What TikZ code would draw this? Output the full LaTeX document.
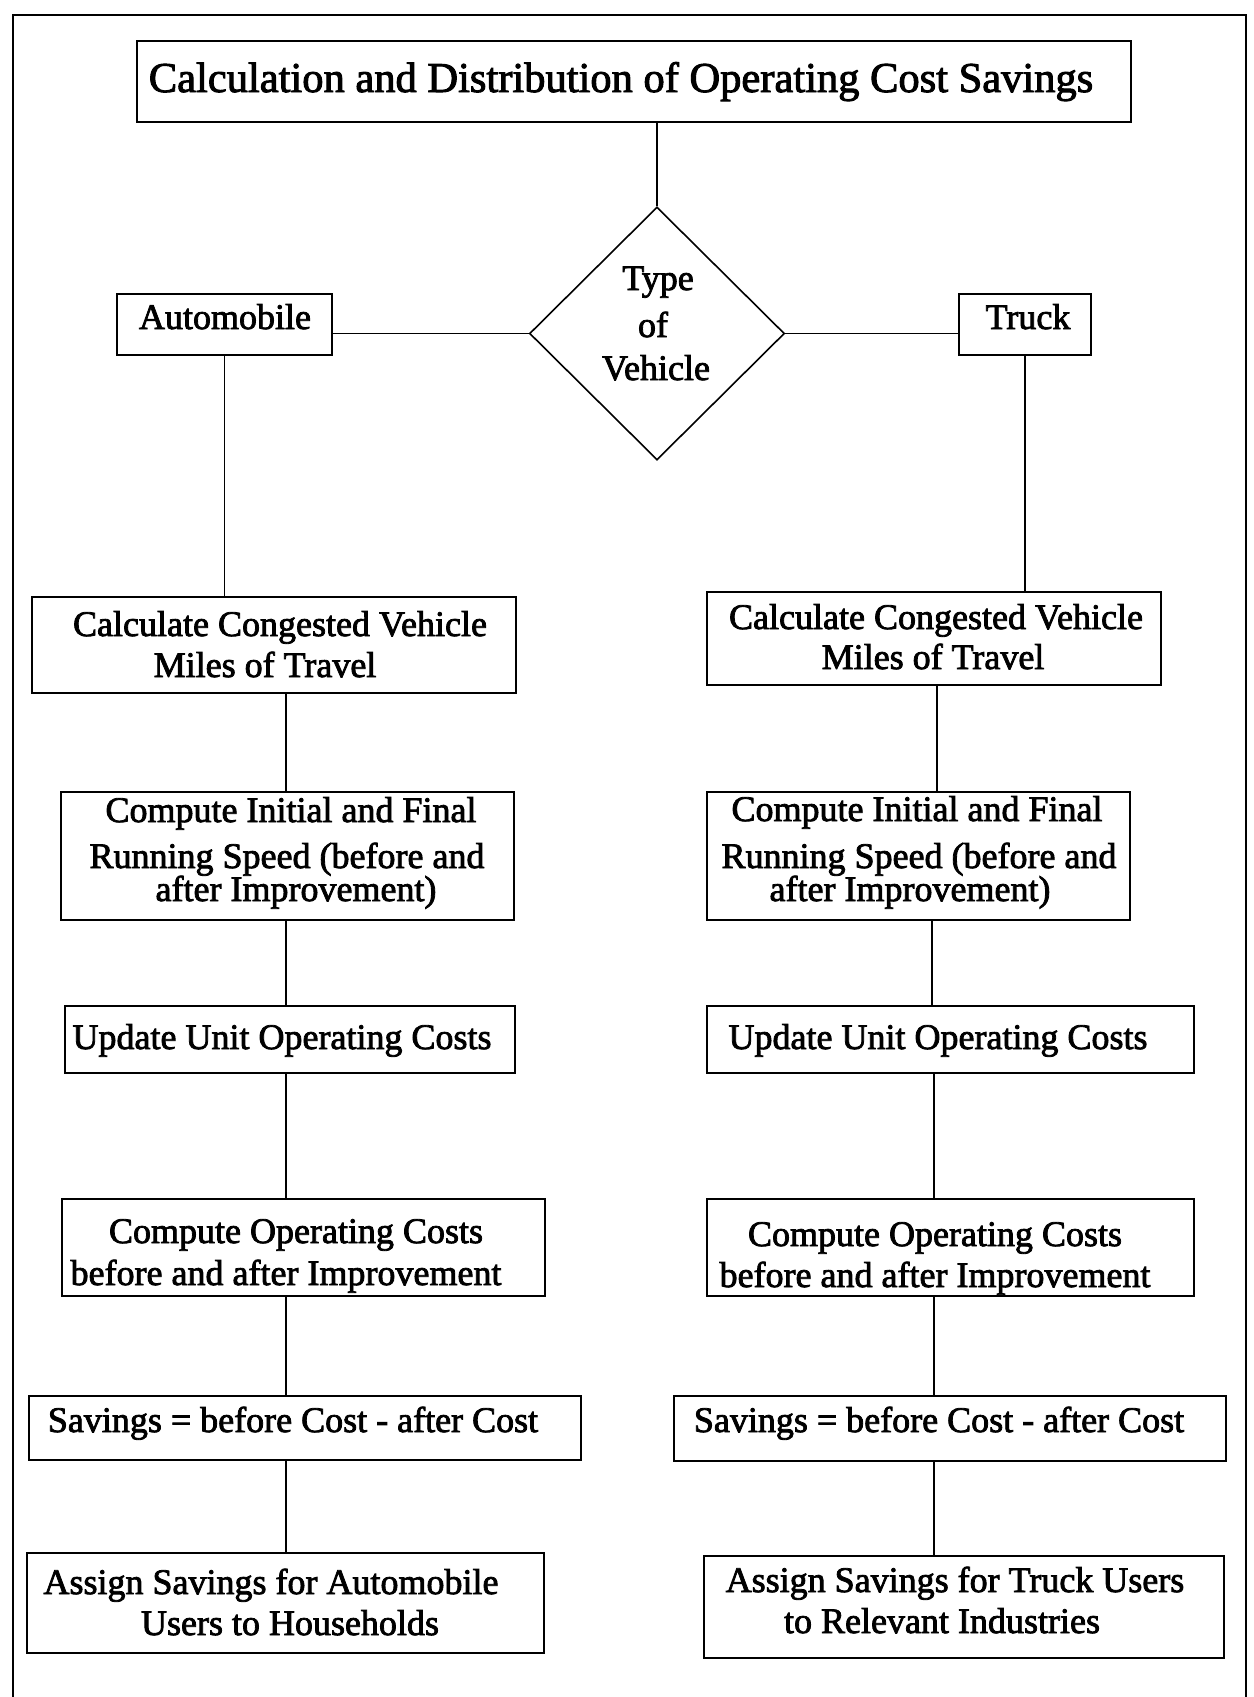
\documentclass[tikz,border=0pt]{standalone}
\usepackage{fontspec}
\setmainfont{Liberation Serif}[FakeBold=2.2]
\usetikzlibrary{shapes.geometric}
\begin{document}
\begin{tikzpicture}[x=1pt,y=-1pt,
  box/.style={draw, line width=2.2pt, rectangle, inner sep=0pt},
  txt/.style={inner sep=0pt, anchor=base, font=\fontsize{36}{41}\selectfont},
  link/.style={line width=1.4pt}]
\useasboundingbox (0,0) rectangle (1253,1697);

% outer frame, open at the bottom
\draw[line width=2pt] (13,1697) -- (13,15) -- (1246,15) -- (1246,1697);

% title
\node[box, minimum width=994pt, minimum height=81pt] (title) at (634,81.5) {};
\node[inner sep=0pt, anchor=base, font=\fontsize{42.5}{47}\selectfont] (titlet) at (621,92)
  {Calculation and Distribution of Operating Cost Savings};

% decision
\node[draw, diamond, line width=1.6pt, minimum width=255pt, minimum height=253pt, inner sep=0pt] (dia) at (657,333.5) {};
\node[txt] (diat1) at (658,290) {Type};
\node[txt] (diat2) at (653,337) {of};
\node[txt] (diat3) at (656,380) {Vehicle};

% vehicle types
\node[box, minimum width=215pt, minimum height=61pt] (auto) at (224.5,324.5) {};
\node[txt] (autot) at (225,329) {Automobile};
\node[box, minimum width=132pt, minimum height=61pt] (truck) at (1025,324.5) {};
\node[txt] (truckt) at (1028,329) {Truck};

% automobile column
\node[box, minimum width=484pt, minimum height=96pt] (L1) at (274,645) {};
\node[txt] (L1a) at (280,636) {Calculate Congested Vehicle};
\node[txt] (L1b) at (265,677) {Miles of Travel};

\node[box, minimum width=453pt, minimum height=128pt] (L2) at (287.5,856) {};
\node[txt] (L2a) at (291,822) {Compute Initial and Final};
\node[txt] (L2b) at (287,868) {Running Speed (before and};
\node[txt] (L2c) at (296,901) {after Improvement)};

\node[box, minimum width=450pt, minimum height=67pt] (L3) at (290,1039.5) {};
\node[txt] (L3a) at (282,1049) {Update Unit Operating Costs};

\node[box, minimum width=483pt, minimum height=97pt] (L4) at (303.5,1247.5) {};
\node[txt] (L4a) at (296,1243) {Compute Operating Costs};
\node[txt] (L4b) at (286,1285) {before and after Improvement};

\node[box, minimum width=552pt, minimum height=64pt] (L5) at (305,1428) {};
\node[txt] (L5a) at (293,1432) {Savings = before Cost - after Cost};

\node[box, minimum width=517pt, minimum height=100pt] (L6) at (285.5,1603) {};
\node[txt] (L6a) at (271,1594) {Assign Savings for Automobile};
\node[txt] (L6b) at (290,1635) {Users to Households};

% truck column
\node[box, minimum width=454pt, minimum height=93pt] (R1) at (934,638.5) {};
\node[txt] (R1a) at (936,629) {Calculate Congested Vehicle};
\node[txt] (R1b) at (933,669) {Miles of Travel};

\node[box, minimum width=423pt, minimum height=128pt] (R2) at (918.5,856) {};
\node[txt] (R2a) at (917,821) {Compute Initial and Final};
\node[txt] (R2b) at (919,868) {Running Speed (before and};
\node[txt] (R2c) at (910,901) {after Improvement)};

\node[box, minimum width=487pt, minimum height=67pt] (R3) at (950.5,1039.5) {};
\node[txt] (R3a) at (938,1049) {Update Unit Operating Costs};

\node[box, minimum width=487pt, minimum height=97pt] (R4) at (950.5,1247.5) {};
\node[txt] (R4a) at (935,1246) {Compute Operating Costs};
\node[txt] (R4b) at (935,1287) {before and after Improvement};

\node[box, minimum width=552pt, minimum height=65pt] (R5) at (950,1428.5) {};
\node[txt] (R5a) at (939,1432) {Savings = before Cost - after Cost};

\node[box, minimum width=520pt, minimum height=102pt] (R6) at (964,1607) {};
\node[txt] (R6a) at (955,1592) {Assign Savings for Truck Users};
\node[txt] (R6b) at (942,1633) {to Relevant Industries};

% column positions of the vertical links
\coordinate (xl) at (286,0);
\coordinate (xr1) at (937,0);
\coordinate (xr2) at (932,0);
\coordinate (xr) at (934,0);

% links
\draw[link] (title.south -| dia.north) -- (dia.north);
\draw[link] (auto.east |- dia.west) -- (dia.west);
\draw[link] (dia.east) -- (truck.west |- dia.east);
\draw[link] (auto.south) -- (auto.south |- L1.north);
\draw[link] (truck.south) -- (truck.south |- R1.north);

\draw[link] (L1.south -| xl) -- (L2.north -| xl);
\draw[link] (L2.south -| xl) -- (L3.north -| xl);
\draw[link] (L3.south -| xl) -- (L4.north -| xl);
\draw[link] (L4.south -| xl) -- (L5.north -| xl);
\draw[link] (L5.south -| xl) -- (L6.north -| xl);

\draw[link] (R1.south -| xr1) -- (R2.north -| xr1);
\draw[link] (R2.south -| xr2) -- (R3.north -| xr2);
\draw[link] (R3.south -| xr) -- (R4.north -| xr);
\draw[link] (R4.south -| xr) -- (R5.north -| xr);
\draw[link] (R5.south -| xr) -- (R6.north -| xr);
\end{tikzpicture}
\end{document}
